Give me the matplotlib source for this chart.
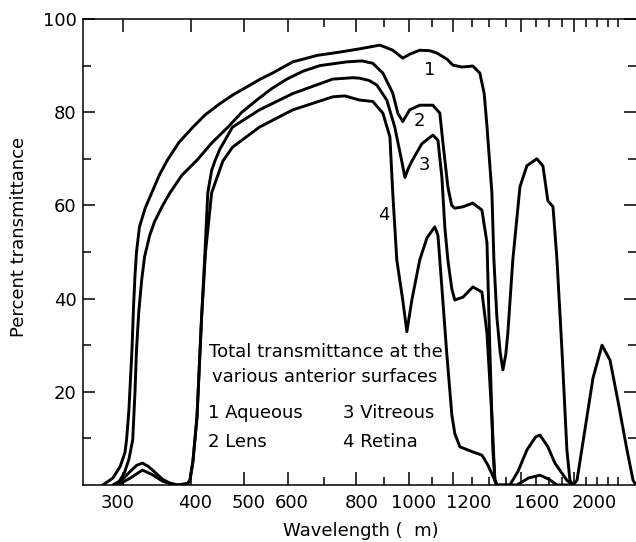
import matplotlib
matplotlib.use('Agg')
import matplotlib.pyplot as plt
import matplotlib.transforms as mtransforms
from matplotlib.ticker import FixedLocator, NullFormatter

plt.rcParams['font.family'] = ['DejaVu Sans']

# ---- data (wavelength nm, percent transmittance) ----
wl_aqueous = [276, 288, 297, 303, 305, 308, 312, 314, 316, 318, 322, 330, 339, 350, 362, 380,
              403, 425, 451, 478, 505, 533, 563, 613, 680, 747, 812, 884, 933, 973, 1004,
              1045, 1090, 1123, 1171, 1201, 1247, 1306, 1345, 1370, 1386, 1415, 1427, 1445,
              1465, 1482, 1500, 1513, 1545, 1592, 1639, 1709, 1753, 1790, 1829, 1860, 1899,
              1939, 1964, 1989, 2023, 2109, 2164, 2247, 2324, 2403, 2496, 2560, 2592]
t_aqueous = [0, 1.5, 4, 7, 9.7, 16, 29, 38, 45, 50, 55.4, 59.5, 62.7, 66.5, 69.7, 73.5,
             76.8, 79.5, 81.8, 83.8, 85.4, 87, 88.4, 90.8, 92.2, 92.9, 93.6, 94.4, 93.3, 91.6, 92.5,
             93.3, 93.2, 92.7, 91.4, 90.1, 89.7, 89.9, 88.4, 84, 77, 62.7, 48.3, 36,
             28.5, 24.7, 28, 32.6, 48.3, 64, 68.5, 70, 68.5, 61, 59.7, 48.3, 29,
             7.5, 1, 0, 1, 14.6, 23, 30, 26.8, 18, 7.5, 1, 0]

wl_lens = [293, 302, 308, 313, 316, 318, 321, 325, 329, 336, 343, 355, 366, 385, 410, 437,
           467, 495, 527, 560, 598, 640, 687, 769, 820, 858, 895, 933, 953, 973, 990, 1002,
           1045, 1104, 1137, 1152, 1176, 1195, 1211, 1253, 1306, 1357, 1386, 1403, 1421,
           1433, 1445, 1526, 1580, 1639, 1700, 1731, 1760, 1790, 1844, 1939, 1989]
t_lens = [0, 2.5, 5.5, 9.7, 20, 29, 37, 44, 49, 53.5, 56.5, 60, 62.7, 66.5, 69.7, 73.5,
          76.8, 80, 82.6, 85, 87.1, 88.8, 90, 90.8, 91, 90.5, 88.4, 84.1, 79.8, 78, 79.5, 80.5,
          81.5, 81.5, 79.8, 73.4, 64, 60, 59.4, 59.7, 60.5, 59, 52, 29, 7.5,
          1, 0, 0, 3, 7.5, 10.3, 10.7, 9.5, 8.2, 4.7, 1, 0]

wl_vitreous = [288, 300, 309, 318, 326, 334, 343, 355, 366, 378, 394, 398, 403, 410, 418,
               424, 429, 436, 442, 451, 476, 533, 613, 725, 789, 812, 845, 873, 910, 941,
               969, 982, 995, 1011, 1054, 1104, 1128, 1147, 1161, 1176, 1196, 1211, 1253,
               1306, 1357, 1386, 1415, 1433, 1445, 1572, 1650, 1731, 1800, 1860, 1989]
t_vitreous = [0, 1.2, 2.8, 4.2, 4.7, 4, 2.8, 1.2, 0.4, 0, 0.3, 1, 5, 14.6, 36,
              50, 62.7, 67.5, 69.5, 72, 76.8, 80.5, 84, 87.1, 87.4, 87.3, 86.8, 85.8, 82.6, 76.8,
              69.5, 66, 67.8, 69.5, 73.2, 75.1, 74, 66, 55.4, 48.3, 42, 39.7, 40.3,
              42.5, 41.4, 32.6, 14.6, 1, 0, 0, 1.5, 2.1, 1.2, 0, 0]

wl_retina = [294, 310, 326, 340, 355, 366, 378, 394, 398, 403, 410, 418, 425, 436, 457,
             476, 533, 613, 725, 763, 812, 858, 895, 922, 933, 949, 973, 990, 1011, 1045,
             1077, 1113, 1128, 1137, 1171, 1196, 1211, 1237, 1306, 1357, 1391, 1433, 1445]
t_retina = [0, 1.5, 3.2, 2.2, 0.8, 0.3, 0, 0.3, 1, 5, 14.6, 36, 50, 62.7, 69.5,
            72.5, 76.8, 80.5, 83.3, 83.5, 82.6, 82.3, 79.8, 74.7, 62.7, 48.3, 39.7, 32.9, 39.7, 48.3,
            53, 55.4, 53.6, 48.3, 28, 15, 11, 8.2, 7.1, 6.4, 4.3, 1, 0]

x_major = [300, 400, 500, 600, 800, 1000, 1200, 1600, 2000]
x_major_labels = ['300', '400', '500', '600', '800', '1000', '1200', '1600', '2000']
x_minor = [700, 900, 1100, 1300, 1400, 1500, 1700, 1800, 1900, 2100, 2200, 2300, 2400]
y_major = [20, 40, 60, 80, 100]
y_minor = [10, 30, 50, 70, 90]

curve_numbers = ['1', '2', '3', '4']
legend_entries = ['1 Aqueous', '2 Lens', '3 Vitreous', '4 Retina']

# ---- figure ----
fig = plt.figure(figsize=(6.36, 5.42), dpi=100)
ax = fig.add_axes([83 / 636, 57 / 542, 553 / 636, 466 / 542])
ax.set_xscale('log')
ax.set_xlim(254, 2592)
ax.set_ylim(0, 100)

for wl, t in [(wl_aqueous, t_aqueous), (wl_lens, t_lens),
              (wl_vitreous, t_vitreous), (wl_retina, t_retina)]:
    ax.plot(wl, t, color='black', lw=2.1, solid_joinstyle='round', solid_capstyle='round')

ax.xaxis.set_major_locator(FixedLocator(x_major))
ax.xaxis.set_major_formatter(NullFormatter())
ax.xaxis.set_minor_locator(FixedLocator(x_minor))
ax.xaxis.set_minor_formatter(NullFormatter())
ax.yaxis.set_major_locator(FixedLocator(y_major))
ax.yaxis.set_minor_locator(FixedLocator(y_minor))
ax.yaxis.set_minor_formatter(NullFormatter())

ax.spines['right'].set_visible(False)
for s in ['left', 'top', 'bottom']:
    ax.spines[s].set_linewidth(1.1)

ax.tick_params(which='both', direction='in', top=True, right=True, width=1.1,
               color='black', labelsize=13)
ax.tick_params(axis='x', which='major', length=9.5, pad=5)
ax.tick_params(axis='x', which='minor', length=5.5)
ax.tick_params(axis='y', which='major', length=8.5, pad=4.5)
ax.tick_params(axis='y', which='minor', length=5.5)

# x tick labels (the printed labels sit slightly right of their ticks)
label_shift_px = [-5, 4, 4, 4, 6, 4, 16, 15, 20]
blend = mtransforms.blended_transform_factory(ax.transData, ax.transAxes)
for v, lab, dx in zip(x_major, x_major_labels, label_shift_px):
    tr = blend + mtransforms.ScaledTranslation(dx / 100, 0, fig.dpi_scale_trans)
    ax.text(v, -0.0494, lab, transform=tr, fontsize=13, ha='center', va='baseline')

ax.set_xlabel('Wavelength (  m)', fontsize=13, va='center')
ax.xaxis.set_label_coords(0.503, -0.099)
ax.set_ylabel('Percent transmittance', fontsize=13, va='center')
ax.yaxis.set_label_coords(-0.116, 0.532)

# curve numbers
num_pos = [(0.6275, 0.8906), (0.6076, 0.7811), (0.6166, 0.6867), (0.5443, 0.5794)]
for s, (px, py) in zip(curve_numbers, num_pos):
    ax.text(px, py, s, transform=ax.transAxes, fontsize=13, ha='center', va='center')

ax.text(0.4394, 0.2747, 'Total transmittance at the', transform=ax.transAxes,
        fontsize=13, ha='center', va='baseline')
ax.text(0.4376, 0.221, 'various anterior surfaces', transform=ax.transAxes,
        fontsize=13, ha='center', va='baseline')
leg_pos = [(0.2255, 0.1431), (0.2255, 0.0822), (0.4707, 0.1431), (0.4707, 0.0822)]
for s, (px, py) in zip(legend_entries, leg_pos):
    ax.text(px, py, s, transform=ax.transAxes, fontsize=13, ha='left', va='baseline')

fig.savefig('out.png', dpi=100)
